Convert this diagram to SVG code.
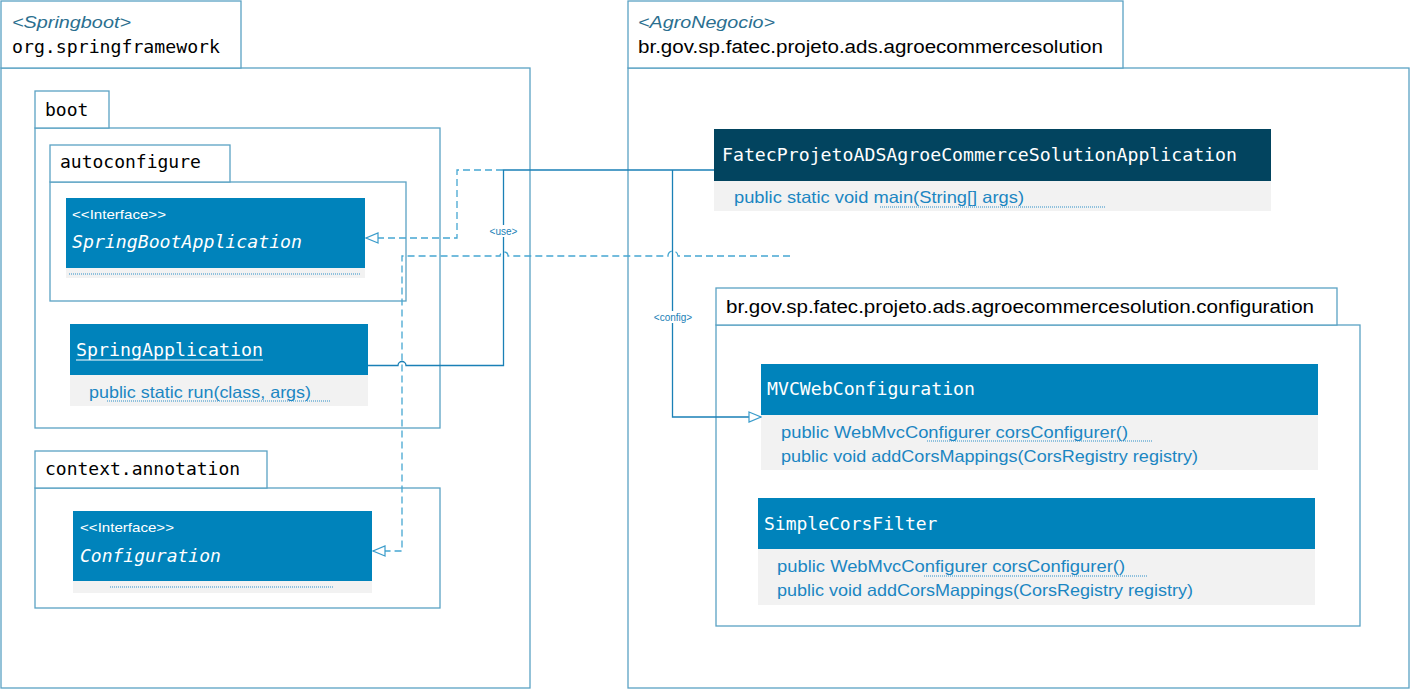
<svg xmlns="http://www.w3.org/2000/svg" width="1411" height="689" viewBox="0 0 1411 689">
<defs>
<style>
.pkg{fill:#fff;stroke:#5aa2c4;stroke-width:1.3}
.hdr{fill:#0083bb}
.hdrd{fill:#02445f}
.cmp{fill:#f2f2f2}
.mono{font-family:"DejaVu Sans Mono","Liberation Mono",monospace;font-size:18px}
.pkgt{fill:#000}
.cls{fill:#fff}
.it{font-style:italic}
.sans{font-family:"Liberation Sans",Arial,sans-serif}
.stereo{fill:#2b6f8f;font-style:italic;font-size:17px}
.pname{fill:#000;font-size:18px}
.iface{fill:#fff;font-size:13px}
.meth{fill:#1b86c2;font-size:16.5px}
.dot{stroke:#2d8fc8;stroke-width:1;stroke-dasharray:1,1;fill:none}
.solid{fill:none;stroke:#1a80b6;stroke-width:1.3}
.dash{fill:none;stroke:#45a7d2;stroke-width:1.3;stroke-dasharray:7,4}
.lbl{fill:#1a80b6;font-size:10px}
.lblbg{fill:#fff}
</style>
<marker id="tri" viewBox="0 0 14 12" refX="13" refY="6" markerWidth="14" markerHeight="12" markerUnits="userSpaceOnUse" orient="auto">
<path d="M1,1 L13,6 L1,11 Z" fill="#fff" stroke="#3a9ccb" stroke-width="1.2"/>
</marker>
</defs>
<rect width="1411" height="689" fill="#fff"/>

<g id="pkg-springframework">
<rect class="pkg" x="1" y="68" width="529" height="620"/>
<rect class="pkg" x="1" y="1" width="240" height="67"/>
<text class="sans stereo" x="12" y="28" textLength="119" lengthAdjust="spacingAndGlyphs">&lt;Springboot&gt;</text>
<text class="mono pkgt" x="12" y="53" textLength="208" lengthAdjust="spacingAndGlyphs">org.springframework</text>
</g>

<g id="pkg-agronegocio">
<rect class="pkg" x="628" y="68" width="781" height="620"/>
<rect class="pkg" x="628" y="1" width="495" height="67"/>
<text class="sans stereo" x="638" y="28" textLength="137" lengthAdjust="spacingAndGlyphs">&lt;AgroNegocio&gt;</text>
<text class="sans pname" x="638" y="53" textLength="465" lengthAdjust="spacingAndGlyphs">br.gov.sp.fatec.projeto.ads.agroecommercesolution</text>
</g>

<g id="pkg-boot">
<rect class="pkg" x="35" y="128" width="405" height="300"/>
<rect class="pkg" x="35" y="91" width="74" height="37"/>
<text class="mono pkgt" x="45" y="116">boot</text>
</g>

<g id="pkg-autoconfigure">
<rect class="pkg" x="50" y="182" width="356" height="119"/>
<rect class="pkg" x="50" y="145" width="180" height="37"/>
<text class="mono pkgt" x="60" y="168">autoconfigure</text>
</g>

<g id="pkg-context-annotation">
<rect class="pkg" x="35" y="488" width="405" height="120"/>
<rect class="pkg" x="35" y="451" width="232" height="37"/>
<text class="mono pkgt" x="45" y="475">context.annotation</text>
</g>

<g id="pkg-configuration">
<rect class="pkg" x="716" y="325" width="644" height="301"/>
<rect class="pkg" x="716" y="288" width="621" height="37"/>
<text class="sans pname" x="726" y="313" textLength="588" lengthAdjust="spacingAndGlyphs">br.gov.sp.fatec.projeto.ads.agroecommercesolution.configuration</text>
</g>

<g id="cls-springbootapplication">
<rect class="cmp" x="66" y="268" width="299" height="10"/>
<rect class="hdr" x="66" y="198" width="299" height="70"/>
<text class="sans iface" x="72" y="219" textLength="94" lengthAdjust="spacingAndGlyphs">&lt;&lt;Interface&gt;&gt;</text>
<text class="mono cls it" x="72" y="248" textLength="230" lengthAdjust="spacingAndGlyphs">SpringBootApplication</text>
<line class="dot" x1="69" y1="274" x2="361" y2="274"/>
</g>

<g id="cls-springapplication">
<rect class="cmp" x="70" y="375" width="298" height="31"/>
<rect class="hdr" x="70" y="324" width="298" height="51"/>
<text class="mono cls" x="76" y="356" textLength="187" lengthAdjust="spacingAndGlyphs">SpringApplication</text>
<line x1="76" y1="360" x2="263" y2="360" stroke="#fff" stroke-width="1.2"/>
<text class="sans meth" x="89" y="398" textLength="222" lengthAdjust="spacingAndGlyphs">public static run(class, args)</text>
<line class="dot" x1="107" y1="401" x2="331" y2="401"/>
</g>

<g id="cls-configuration">
<rect class="cmp" x="73" y="581" width="299" height="12"/>
<rect class="hdr" x="73" y="511" width="299" height="70"/>
<text class="sans iface" x="80" y="532" textLength="94" lengthAdjust="spacingAndGlyphs">&lt;&lt;Interface&gt;&gt;</text>
<text class="mono cls it" x="80" y="562">Configuration</text>
<line class="dot" x1="110" y1="587" x2="334" y2="587"/>
</g>

<g id="cls-fatecapplication">
<rect class="cmp" x="714" y="181" width="557" height="30"/>
<rect class="hdrd" x="714" y="129" width="557" height="52"/>
<text class="mono cls" x="722" y="161" textLength="515" lengthAdjust="spacingAndGlyphs">FatecProjetoADSAgroeCommerceSolutionApplication</text>
<text class="sans meth" x="734" y="203" textLength="290" lengthAdjust="spacingAndGlyphs">public static void main(String[] args)</text>
<line class="dot" x1="880" y1="207" x2="1105" y2="207"/>
</g>

<g id="cls-mvcwebconfiguration">
<rect class="cmp" x="761" y="415" width="557" height="55"/>
<rect class="hdr" x="761" y="364" width="557" height="51"/>
<text class="mono cls" x="767" y="395" textLength="208" lengthAdjust="spacingAndGlyphs">MVCWebConfiguration</text>
<text class="sans meth" x="781" y="438" textLength="347" lengthAdjust="spacingAndGlyphs">public WebMvcConfigurer corsConfigurer()</text>
<line class="dot" x1="927" y1="441" x2="1152" y2="441"/>
<text class="sans meth" x="781" y="462" textLength="417" lengthAdjust="spacingAndGlyphs">public void addCorsMappings(CorsRegistry registry)</text>
</g>

<g id="cls-simplecorsfilter">
<rect class="cmp" x="758" y="549" width="557" height="56"/>
<rect class="hdr" x="758" y="498" width="557" height="51"/>
<text class="mono cls" x="764" y="530">SimpleCorsFilter</text>
<text class="sans meth" x="777" y="572" textLength="348" lengthAdjust="spacingAndGlyphs">public WebMvcConfigurer corsConfigurer()</text>
<line class="dot" x1="924" y1="576" x2="1148" y2="576"/>
<text class="sans meth" x="777" y="596" textLength="416" lengthAdjust="spacingAndGlyphs">public void addCorsMappings(CorsRegistry registry)</text>
</g>

<g id="connectors">
<path class="dash" d="M503,170 H457 V238 H366" marker-end="url(#tri)"/>
<path class="dash" d="M790,256 H678 A5,5 0 0 0 668,256 H508 A4,4 0 0 0 500,256 H402 V551 H373" marker-end="url(#tri)"/>
<path class="solid" d="M368,365.5 H398 A4,4 0 0 1 406,365.5 H503.5 V170 H714"/>
<path class="solid" d="M672.5,170 V417 H761" marker-end="url(#tri)"/>
<rect class="lblbg" x="488" y="225" width="31" height="12"/>
<text class="sans lbl" x="503.5" y="234.5" text-anchor="middle">&lt;use&gt;</text>
<rect class="lblbg" x="651" y="311" width="45" height="12"/>
<text class="sans lbl" x="673" y="320.5" text-anchor="middle">&lt;config&gt;</text>
</g>
</svg>
